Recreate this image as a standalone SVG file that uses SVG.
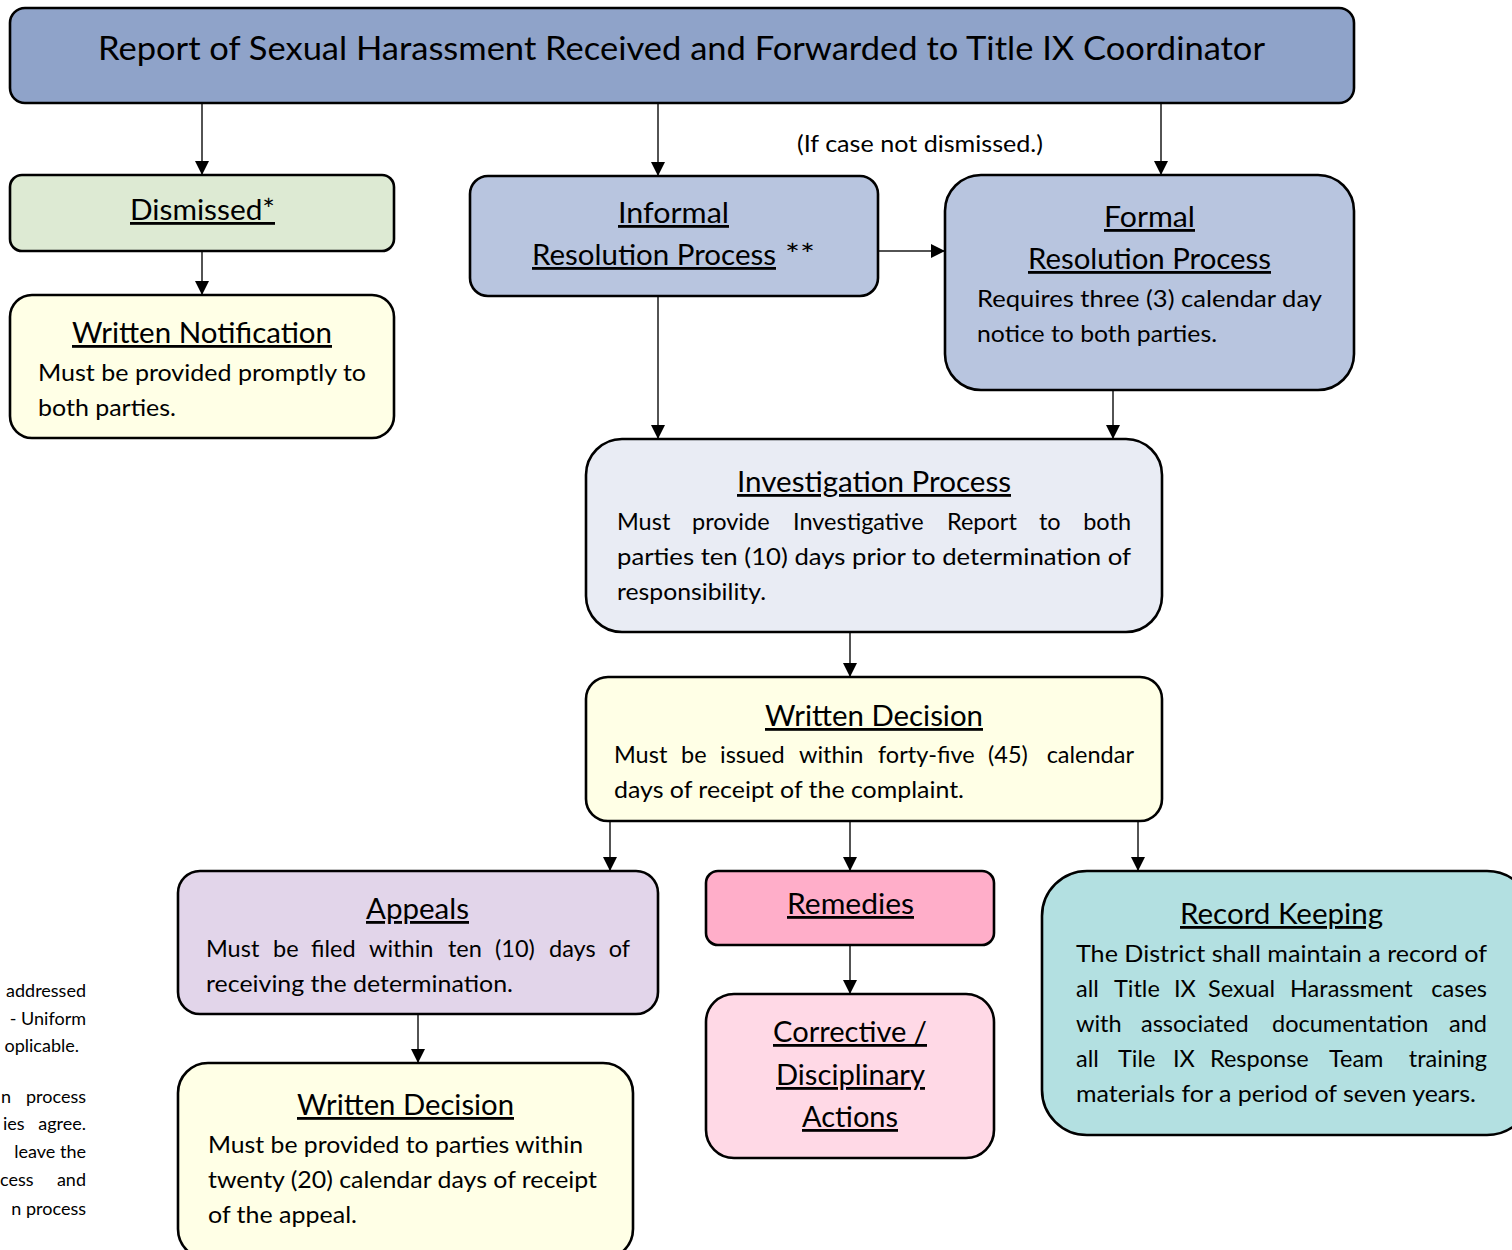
<svg xmlns="http://www.w3.org/2000/svg" width="1512" height="1250" viewBox="0 0 1512 1250">
<defs>
<style>
text{font-family:Lato,"Open Sans","Liberation Sans",sans-serif;fill:#000}
.box{stroke:#000;stroke-width:2.6}
.t{font-size:32.5px}
.h{font-size:28px;text-decoration:underline}
.b{font-size:23.5px}
.f{font-size:18px}
.c line{stroke:#1a1a1a;stroke-width:1.5;marker-end:url(#ah)}
</style>
<marker id="ah" viewBox="0 0 10 10" refX="10" refY="5" markerUnits="userSpaceOnUse" markerWidth="14" markerHeight="15" orient="auto">
<path d="M0,0 L10,5 L0,10 z" fill="#000"/>
</marker>
</defs>
<rect width="1512" height="1250" fill="#fff"/>

<g id="connectors" class="c">
<line x1="202" y1="104" x2="202" y2="175"/>
<line x1="658" y1="104" x2="658" y2="176"/>
<line x1="1161" y1="104" x2="1161" y2="175"/>
<line x1="202" y1="252" x2="202" y2="295"/>
<line x1="879" y1="251" x2="945" y2="251"/>
<line x1="658" y1="297" x2="658" y2="439"/>
<line x1="1113" y1="391" x2="1113" y2="439"/>
<line x1="850" y1="633" x2="850" y2="677"/>
<line x1="610" y1="822" x2="610" y2="871"/>
<line x1="850" y1="822" x2="850" y2="871"/>
<line x1="1138" y1="822" x2="1138" y2="871"/>
<line x1="418" y1="1015" x2="418" y2="1063"/>
<line x1="850" y1="946" x2="850" y2="994"/>
</g>

<g id="report">
<rect class="box" x="10" y="8" width="1344" height="95" rx="15" fill="#8FA3C9"/>
<text class="t" x="98" y="60" textLength="1167" lengthAdjust="spacingAndGlyphs">Report of Sexual Harassment Received and Forwarded to Title IX Coordinator</text>
</g>

<g id="dismissed">
<rect class="box" x="10" y="175" width="384" height="76" rx="12" fill="#DDEAD3"/>
<text class="h" x="130" y="220" textLength="145" lengthAdjust="spacingAndGlyphs">Dismissed*</text>
</g>

<g id="written-notification">
<rect class="box" x="10" y="295" width="384" height="143" rx="22" fill="#FFFFE6"/>
<text class="h" x="72" y="343" textLength="260" lengthAdjust="spacingAndGlyphs">Written Notification</text>
<text class="b" x="38" y="381" textLength="328" lengthAdjust="spacingAndGlyphs">Must be provided promptly to</text>
<text class="b" x="38" y="416" textLength="138" lengthAdjust="spacingAndGlyphs">both parties.</text>
</g>

<g id="informal">
<rect class="box" x="470" y="176" width="408" height="120" rx="18" fill="#B8C5DF"/>
<text class="h" x="618" y="223" textLength="111" lengthAdjust="spacingAndGlyphs">Informal</text>
<text class="h" x="532" y="265" textLength="244" lengthAdjust="spacingAndGlyphs">Resolution Process</text>
<text x="785" y="265" style="font-size:28px" textLength="30" lengthAdjust="spacingAndGlyphs">**</text>
</g>

<text id="note-not-dismissed" class="b" x="797" y="152" textLength="246" lengthAdjust="spacingAndGlyphs">(If case not dismissed.)</text>

<g id="formal">
<rect class="box" x="945" y="175" width="409" height="215" rx="36" fill="#B8C5DF"/>
<text class="h" x="1104" y="227" textLength="91" lengthAdjust="spacingAndGlyphs">Formal</text>
<text class="h" x="1028" y="269" textLength="243" lengthAdjust="spacingAndGlyphs">Resolution Process</text>
<text class="b" x="977" y="307" textLength="345" lengthAdjust="spacingAndGlyphs">Requires three (3) calendar day</text>
<text class="b" x="977" y="342" textLength="240" lengthAdjust="spacingAndGlyphs">notice to both parties.</text>
</g>

<g id="investigation">
<rect class="box" x="586" y="439" width="576" height="193" rx="36" fill="#E9ECF4"/>
<text class="h" x="737" y="492" textLength="274" lengthAdjust="spacingAndGlyphs">Investigation Process</text>
<text class="b" y="530"><tspan x="617">Must</tspan><tspan x="692">provide</tspan><tspan x="793">Investigative</tspan><tspan x="947">Report</tspan><tspan x="1039">to</tspan><tspan x="1131" text-anchor="end">both</tspan></text>
<text class="b" x="617" y="565" textLength="514" lengthAdjust="spacingAndGlyphs">parties ten (10) days prior to determination of</text>
<text class="b" x="617" y="600" textLength="149" lengthAdjust="spacingAndGlyphs">responsibility.</text>
</g>

<g id="written-decision">
<rect class="box" x="586" y="677" width="576" height="144" rx="22" fill="#FFFFE6"/>
<text class="h" x="765" y="726" textLength="218" lengthAdjust="spacingAndGlyphs">Written Decision</text>
<text class="b" y="763"><tspan x="614">Must</tspan><tspan x="681">be</tspan><tspan x="720">issued</tspan><tspan x="799">within</tspan><tspan x="878">forty-five</tspan><tspan x="988">(45)</tspan><tspan x="1134" text-anchor="end">calendar</tspan></text>
<text class="b" x="614" y="798" textLength="350" lengthAdjust="spacingAndGlyphs">days of receipt of the complaint.</text>
</g>

<g id="appeals">
<rect class="box" x="178" y="871" width="480" height="143" rx="22" fill="#E2D5EA"/>
<text class="h" x="366" y="919" textLength="103" lengthAdjust="spacingAndGlyphs">Appeals</text>
<text class="b" y="957"><tspan x="206">Must</tspan><tspan x="273">be</tspan><tspan x="311">filed</tspan><tspan x="369">within</tspan><tspan x="448">ten</tspan><tspan x="495">(10)</tspan><tspan x="549">days</tspan><tspan x="630" text-anchor="end">of</tspan></text>
<text class="b" x="206" y="992" textLength="307" lengthAdjust="spacingAndGlyphs">receiving the determination.</text>
</g>

<g id="appeal-decision">
<rect class="box" x="178" y="1063" width="455" height="196" rx="30" fill="#FFFFE6"/>
<text class="h" x="297" y="1115" textLength="217" lengthAdjust="spacingAndGlyphs">Written Decision</text>
<text class="b" x="208" y="1153" textLength="375" lengthAdjust="spacingAndGlyphs">Must be provided to parties within</text>
<text class="b" x="208" y="1188" textLength="389" lengthAdjust="spacingAndGlyphs">twenty (20) calendar days of receipt</text>
<text class="b" x="208" y="1223" textLength="149" lengthAdjust="spacingAndGlyphs">of the appeal.</text>
</g>

<g id="remedies">
<rect class="box" x="706" y="871" width="288" height="74" rx="12" fill="#FFAEC9"/>
<text class="h" x="787" y="914" textLength="127" lengthAdjust="spacingAndGlyphs">Remedies</text>
</g>

<g id="corrective">
<rect class="box" x="706" y="994" width="288" height="164" rx="28" fill="#FFD9E6"/>
<text class="h" x="773" y="1042" textLength="154" lengthAdjust="spacingAndGlyphs">Corrective /</text>
<text class="h" x="776" y="1085" textLength="149" lengthAdjust="spacingAndGlyphs">Disciplinary</text>
<text class="h" x="802" y="1127" textLength="96" lengthAdjust="spacingAndGlyphs">Actions</text>
</g>

<g id="record-keeping">
<rect class="box" x="1042" y="871" width="490" height="264" rx="45" fill="#B3E0E1"/>
<text class="h" x="1180" y="924" textLength="203" lengthAdjust="spacingAndGlyphs">Record Keeping</text>
<text class="b" x="1076" y="962" textLength="411" lengthAdjust="spacingAndGlyphs">The District shall maintain a record of</text>
<text class="b" y="997"><tspan x="1076">all</tspan><tspan x="1114">Title</tspan><tspan x="1174">IX</tspan><tspan x="1208">Sexual</tspan><tspan x="1290">Harassment</tspan><tspan x="1487" text-anchor="end">cases</tspan></text>
<text class="b" y="1032"><tspan x="1076">with</tspan><tspan x="1141">associated</tspan><tspan x="1272">documentation</tspan><tspan x="1487" text-anchor="end">and</tspan></text>
<text class="b" y="1067"><tspan x="1076">all</tspan><tspan x="1118">Tile</tspan><tspan x="1173">IX</tspan><tspan x="1210">Response</tspan><tspan x="1329">Team</tspan><tspan x="1487" text-anchor="end">training</tspan></text>
<text class="b" x="1076" y="1102" textLength="400" lengthAdjust="spacingAndGlyphs">materials for a period of seven years.</text>
</g>

<g id="footnotes">
<text class="f" x="86" y="997" text-anchor="end">addressed</text>
<text class="f" x="86" y="1025" text-anchor="end">- Uniform</text>
<text class="f" x="79" y="1052" text-anchor="end">oplicable.</text>
<text class="f" x="1" y="1103">n</text>
<text class="f" x="86" y="1103" text-anchor="end">process</text>
<text class="f" x="3" y="1130">ies</text>
<text class="f" x="86" y="1130" text-anchor="end">agree.</text>
<text class="f" x="86" y="1158" text-anchor="end">leave the</text>
<text class="f" x="0" y="1186">cess</text>
<text class="f" x="86" y="1186" text-anchor="end">and</text>
<text class="f" x="86" y="1215" text-anchor="end">n process</text>
</g>
</svg>
